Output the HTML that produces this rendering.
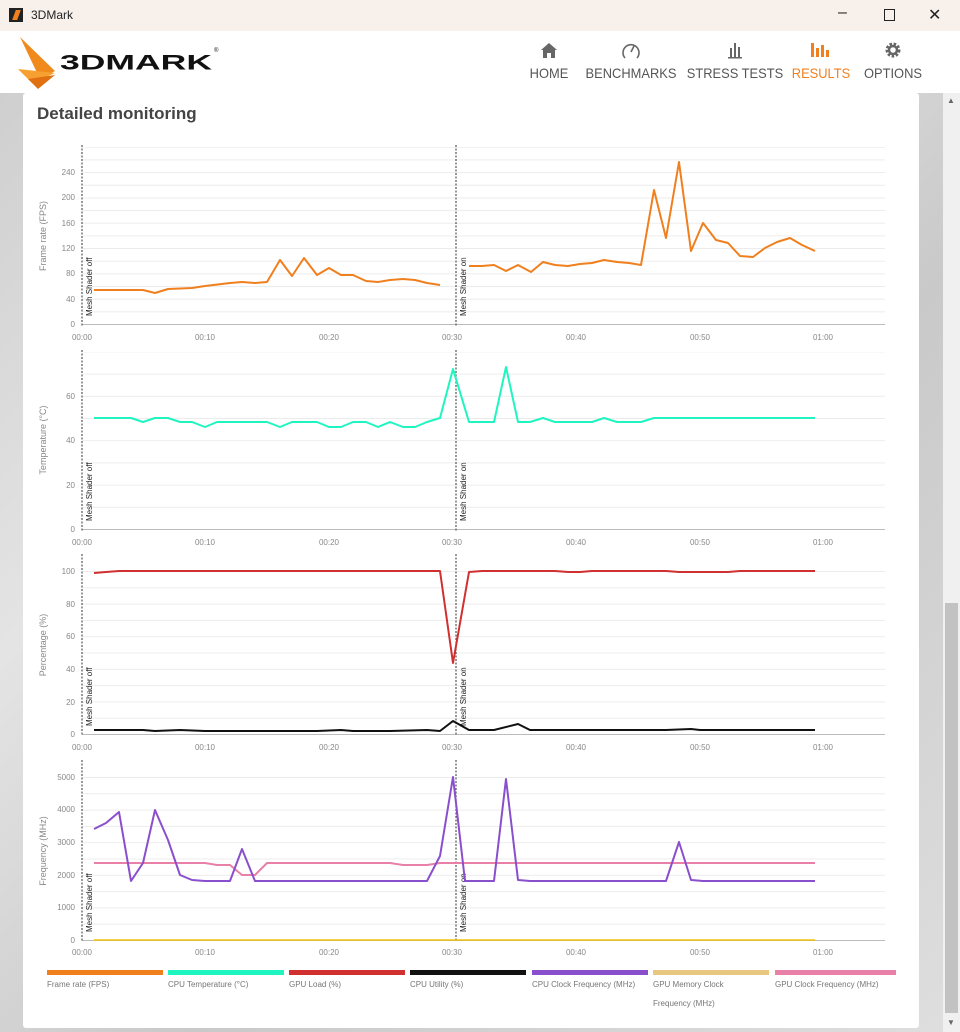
<!DOCTYPE html>
<html><head><meta charset="utf-8"><style>
body{margin:0;width:960px;height:1032px;overflow:hidden;font-family:"Liberation Sans",sans-serif;background:#d4d4d4;position:relative}
.tb{position:absolute;left:0;top:0;width:960px;height:31px;background:#f8f0eb;font-size:12px;color:#222}
.hd{position:absolute;left:0;top:31px;width:960px;height:62px;background:#fff}
.nav{position:absolute;top:65px;font-size:14px;color:#555;text-align:center;width:120px;margin-left:-60px;transform:scaleX(0.92)}
.bg{position:absolute;left:0;top:93px;width:943px;height:939px;background:linear-gradient(135deg,#cfcfcf,#e4e4e4 30%,#c9c9c9 60%,#dedede)}
.card{position:absolute;left:23px;top:93px;width:896px;height:935px;background:#fff;border-radius:3px}
.sb{position:absolute;left:943px;top:93px;width:17px;height:939px;background:#f0f0f0}
svg text{font-family:"Liberation Sans",sans-serif}
</style></head><body>
<div class="tb"><div style="position:absolute;left:9px;top:8px;width:14px;height:14px;background:#222"></div><div style="position:absolute;left:14px;top:10px;width:5px;height:10px;background:#f08020;transform:skewX(-20deg)"></div><span style="position:absolute;left:31px;top:8px">3DMark</span>
<span style="position:absolute;left:838px;top:4px;font-size:16px">–</span><span style="position:absolute;left:884px;top:9px;width:9px;height:10px;border:1px solid #222"></span><span style="position:absolute;left:928px;top:5px;font-size:16px">✕</span></div>
<div class="hd">
<svg width="230" height="62" style="position:absolute;left:10px;top:0"><polygon points="10,6 45,40 30,48" fill="#f08a1c"/><polygon points="8,38 45,42 22,52" fill="#f5a030"/><polygon points="18,48 45,44 28,58" fill="#e07010"/>
<text x="50" y="39" font-size="24" font-weight="bold" fill="#111" textLength="152" lengthAdjust="spacingAndGlyphs" transform="translate(0,4) scale(1,0.88)">3DMARK</text><text x="204" y="21" font-size="6" fill="#111">®</text></svg>
</div>
<svg width="960" height="62" style="position:absolute;left:0;top:31px">
<polygon points="541,19 549,12 557,19 555,19 555,27 551,27 551,22 547,22 547,27 543,27 543,19" fill="#666"/>
<path d="M625,27 A8,8 0 1 1 637,27" fill="none" stroke="#666" stroke-width="1.6"/><line x1="631" y1="21" x2="634" y2="15" stroke="#666" stroke-width="1.6"/>
<g fill="#666"><rect x="730" y="17" width="2" height="9"/><rect x="734" y="12" width="2" height="14"/><rect x="738" y="16" width="2" height="10"/><rect x="728" y="26" width="14" height="1.5"/></g>
<g fill="#f07f1e"><rect x="811" y="12" width="3" height="14"/><rect x="816" y="17" width="3" height="9"/><rect x="821" y="14" width="3" height="12"/><rect x="826" y="19" width="3" height="7"/></g>
<circle cx="893" cy="19" r="6" fill="none" stroke="#666" stroke-width="3" stroke-dasharray="2.5,1.6"/><circle cx="893" cy="19" r="4" fill="none" stroke="#666" stroke-width="2.5"/>
</svg>
<div class="nav" style="left:549px">HOME</div>
<div class="nav" style="left:631px">BENCHMARKS</div>
<div class="nav" style="left:735px">STRESS TESTS</div>
<div class="nav" style="left:821px;color:#f07f1e">RESULTS</div>
<div class="nav" style="left:893px">OPTIONS</div>
<div class="bg"></div>
<div class="sb"><div style="position:absolute;left:2px;top:510px;width:13px;height:410px;background:#c2c2c2"></div><div style="position:absolute;left:4px;top:3px;font-size:8px;color:#666">▲</div><div style="position:absolute;left:4px;top:925px;font-size:8px;color:#666">▼</div></div>
<div class="card"><div style="position:absolute;left:14px;top:11px;font-size:17px;font-weight:bold;color:#444">Detailed monitoring</div></div>
<svg width="960" height="1032" style="position:absolute;left:0;top:0">
<defs>
<pattern id="g1" patternUnits="userSpaceOnUse" x="0" y="324" width="10" height="12.66"><line x1="0" y1="0.5" x2="10" y2="0.5" stroke="#ececec"/></pattern>
<pattern id="g2" patternUnits="userSpaceOnUse" x="0" y="529" width="10" height="22.2"><line x1="0" y1="0.5" x2="10" y2="0.5" stroke="#ececec"/></pattern>
<pattern id="g3" patternUnits="userSpaceOnUse" x="0" y="734" width="10" height="16.3"><line x1="0" y1="0.5" x2="10" y2="0.5" stroke="#ececec"/></pattern>
<pattern id="g4" patternUnits="userSpaceOnUse" x="0" y="940" width="10" height="16.3"><line x1="0" y1="0.5" x2="10" y2="0.5" stroke="#ececec"/></pattern>
</defs>
<g font-size="8" fill="#888" stroke="none">
<rect x="82" y="147" width="803" height="177" fill="url(#g1)"/>
<rect x="82" y="352" width="803" height="177" fill="url(#g2)"/>
<rect x="82" y="556" width="803" height="178" fill="url(#g3)"/>
<rect x="82" y="762" width="803" height="178" fill="url(#g4)"/>
<g stroke="#bbb"><line x1="82" y1="324.5" x2="885" y2="324.5"/><line x1="82" y1="529.5" x2="885" y2="529.5"/><line x1="82" y1="734.5" x2="885" y2="734.5"/><line x1="82" y1="940.5" x2="885" y2="940.5"/></g>
<g text-anchor="middle">
<text x="82" y="340">00:00</text><text x="205" y="340">00:10</text><text x="329" y="340">00:20</text><text x="452" y="340">00:30</text><text x="576" y="340">00:40</text><text x="700" y="340">00:50</text><text x="823" y="340">01:00</text>
<text x="82" y="545">00:00</text><text x="205" y="545">00:10</text><text x="329" y="545">00:20</text><text x="452" y="545">00:30</text><text x="576" y="545">00:40</text><text x="700" y="545">00:50</text><text x="823" y="545">01:00</text>
<text x="82" y="750">00:00</text><text x="205" y="750">00:10</text><text x="329" y="750">00:20</text><text x="452" y="750">00:30</text><text x="576" y="750">00:40</text><text x="700" y="750">00:50</text><text x="823" y="750">01:00</text>
<text x="82" y="955">00:00</text><text x="205" y="955">00:10</text><text x="329" y="955">00:20</text><text x="452" y="955">00:30</text><text x="576" y="955">00:40</text><text x="700" y="955">00:50</text><text x="823" y="955">01:00</text>
</g>
<g text-anchor="end">
<text x="75" y="327">0</text><text x="75" y="302">40</text><text x="75" y="276">80</text><text x="75" y="251">120</text><text x="75" y="226">160</text><text x="75" y="200">200</text><text x="75" y="175">240</text>
<text x="75" y="532">0</text><text x="75" y="488">20</text><text x="75" y="443">40</text><text x="75" y="399">60</text>
<text x="75" y="737">0</text><text x="75" y="705">20</text><text x="75" y="672">40</text><text x="75" y="639">60</text><text x="75" y="607">80</text><text x="75" y="574">100</text>
<text x="75" y="943">0</text><text x="75" y="910">1000</text><text x="75" y="878">2000</text><text x="75" y="845">3000</text><text x="75" y="812">4000</text><text x="75" y="780">5000</text>
</g>
<text transform="translate(46,236) rotate(-90)" text-anchor="middle" font-size="9">Frame rate (FPS)</text>
<text transform="translate(46,440) rotate(-90)" text-anchor="middle" font-size="9">Temperature (°C)</text>
<text transform="translate(46,645) rotate(-90)" text-anchor="middle" font-size="9">Percentage (%)</text>
<text transform="translate(46,851) rotate(-90)" text-anchor="middle" font-size="9">Frequency (MHz)</text>
</g>
<g stroke="#555" stroke-dasharray="2,1.5" stroke-width="1.2">
<line x1="82" y1="145" x2="82" y2="326"/><line x1="456" y1="145" x2="456" y2="326"/>
<line x1="82" y1="350" x2="82" y2="531"/><line x1="456" y1="350" x2="456" y2="531"/>
<line x1="82" y1="554" x2="82" y2="736"/><line x1="456" y1="554" x2="456" y2="736"/>
<line x1="82" y1="760" x2="82" y2="942"/><line x1="456" y1="760" x2="456" y2="942"/>
</g>
<g font-size="8" fill="#222">
<text transform="translate(92,316) rotate(-90)">Mesh Shader off</text><text transform="translate(466,316) rotate(-90)">Mesh Shader on</text>
<text transform="translate(92,521) rotate(-90)">Mesh Shader off</text><text transform="translate(466,521) rotate(-90)">Mesh Shader on</text>
<text transform="translate(92,726) rotate(-90)">Mesh Shader off</text><text transform="translate(466,726) rotate(-90)">Mesh Shader on</text>
<text transform="translate(92,932) rotate(-90)">Mesh Shader off</text><text transform="translate(466,932) rotate(-90)">Mesh Shader on</text>
</g>
<g fill="none" stroke-width="2" stroke-linejoin="round">
<polyline stroke="#f07f1e" points="94,290 143,290 155,293 168,289 192,288 205,286 230,283 242,282 255,283 267,282 280,260 292,276 304,258 317,275 329,268 341,275 353,275 366,281 378,282 390,280 403,279 415,280 427,283 440,285"/>
<polyline stroke="#f07f1e" points="469,266 482,266 494,265 506,271 518,265 531,272 543,262 555,265 568,266 580,264 592,263 604,260 617,262 629,263 641,265 654,190 666,238 679,162 691,251 703,223 716,240 728,243 740,256 753,257 765,248 777,242 790,238 802,245 815,251"/>
<polyline stroke="#1ff5c0" points="94,418 131,418 143,422 155,418 168,418 180,422 192,422 205,427 217,422 267,422 280,427 292,422 317,422 329,427 341,427 353,422 366,422 378,427 390,422 403,427 415,427 427,422 440,418 453,369 469,422 494,422 506,367 518,422 530,422 543,418 555,422 592,422 604,418 617,422 641,422 654,418 815,418"/>
<polyline stroke="#d03030" points="94,573 106,572 119,571 440,571 453,663 469,572 482,571 555,571 568,572 580,572 592,571 666,571 679,572 728,572 740,571 815,571"/>
<polyline stroke="#111" points="94,730 143,730 155,731 180,730 205,731 317,731 341,730 353,731 390,731 427,730 440,731 453,721 469,730 494,730 518,724 530,730 666,730 691,729 700,730 815,730"/>
<polyline stroke="#f0c000" points="94,940 815,940" stroke-opacity="0.7"/>
<polyline stroke="#e880a8" points="94,863 205,863 217,865 230,865 242,875 255,875 267,863 390,863 403,865 427,865 440,863 815,863"/>
<polyline stroke="#8a4fcc" points="94,829 106,823 119,812 131,881 143,863 155,810 168,840 180,875 192,880 205,881 230,881 242,849 255,881 427,881 440,856 453,777 465,881 494,881 506,779 518,880 530,881 666,881 679,842 691,880 703,881 815,881"/>
</g>
<g>
<rect x="47" y="970" width="116" height="5" fill="#f07f1e"/><rect x="168" y="970" width="116" height="5" fill="#1ff5c0"/><rect x="289" y="970" width="116" height="5" fill="#d03030"/><rect x="410" y="970" width="116" height="5" fill="#111"/><rect x="532" y="970" width="116" height="5" fill="#8a4fcc"/><rect x="653" y="970" width="116" height="5" fill="#e8c880"/><rect x="775" y="970" width="121" height="5" fill="#e880a8"/>
<g font-size="8" fill="#777">
<text x="47" y="987">Frame rate (FPS)</text><text x="168" y="987">CPU Temperature (°C)</text><text x="289" y="987">GPU Load (%)</text><text x="410" y="987">CPU Utility (%)</text><text x="532" y="987">CPU Clock Frequency (MHz)</text><text x="653" y="987">GPU Memory Clock</text><text x="653" y="1006">Frequency (MHz)</text><text x="775" y="987">GPU Clock Frequency (MHz)</text>
</g></g>
</svg>
</body></html>
